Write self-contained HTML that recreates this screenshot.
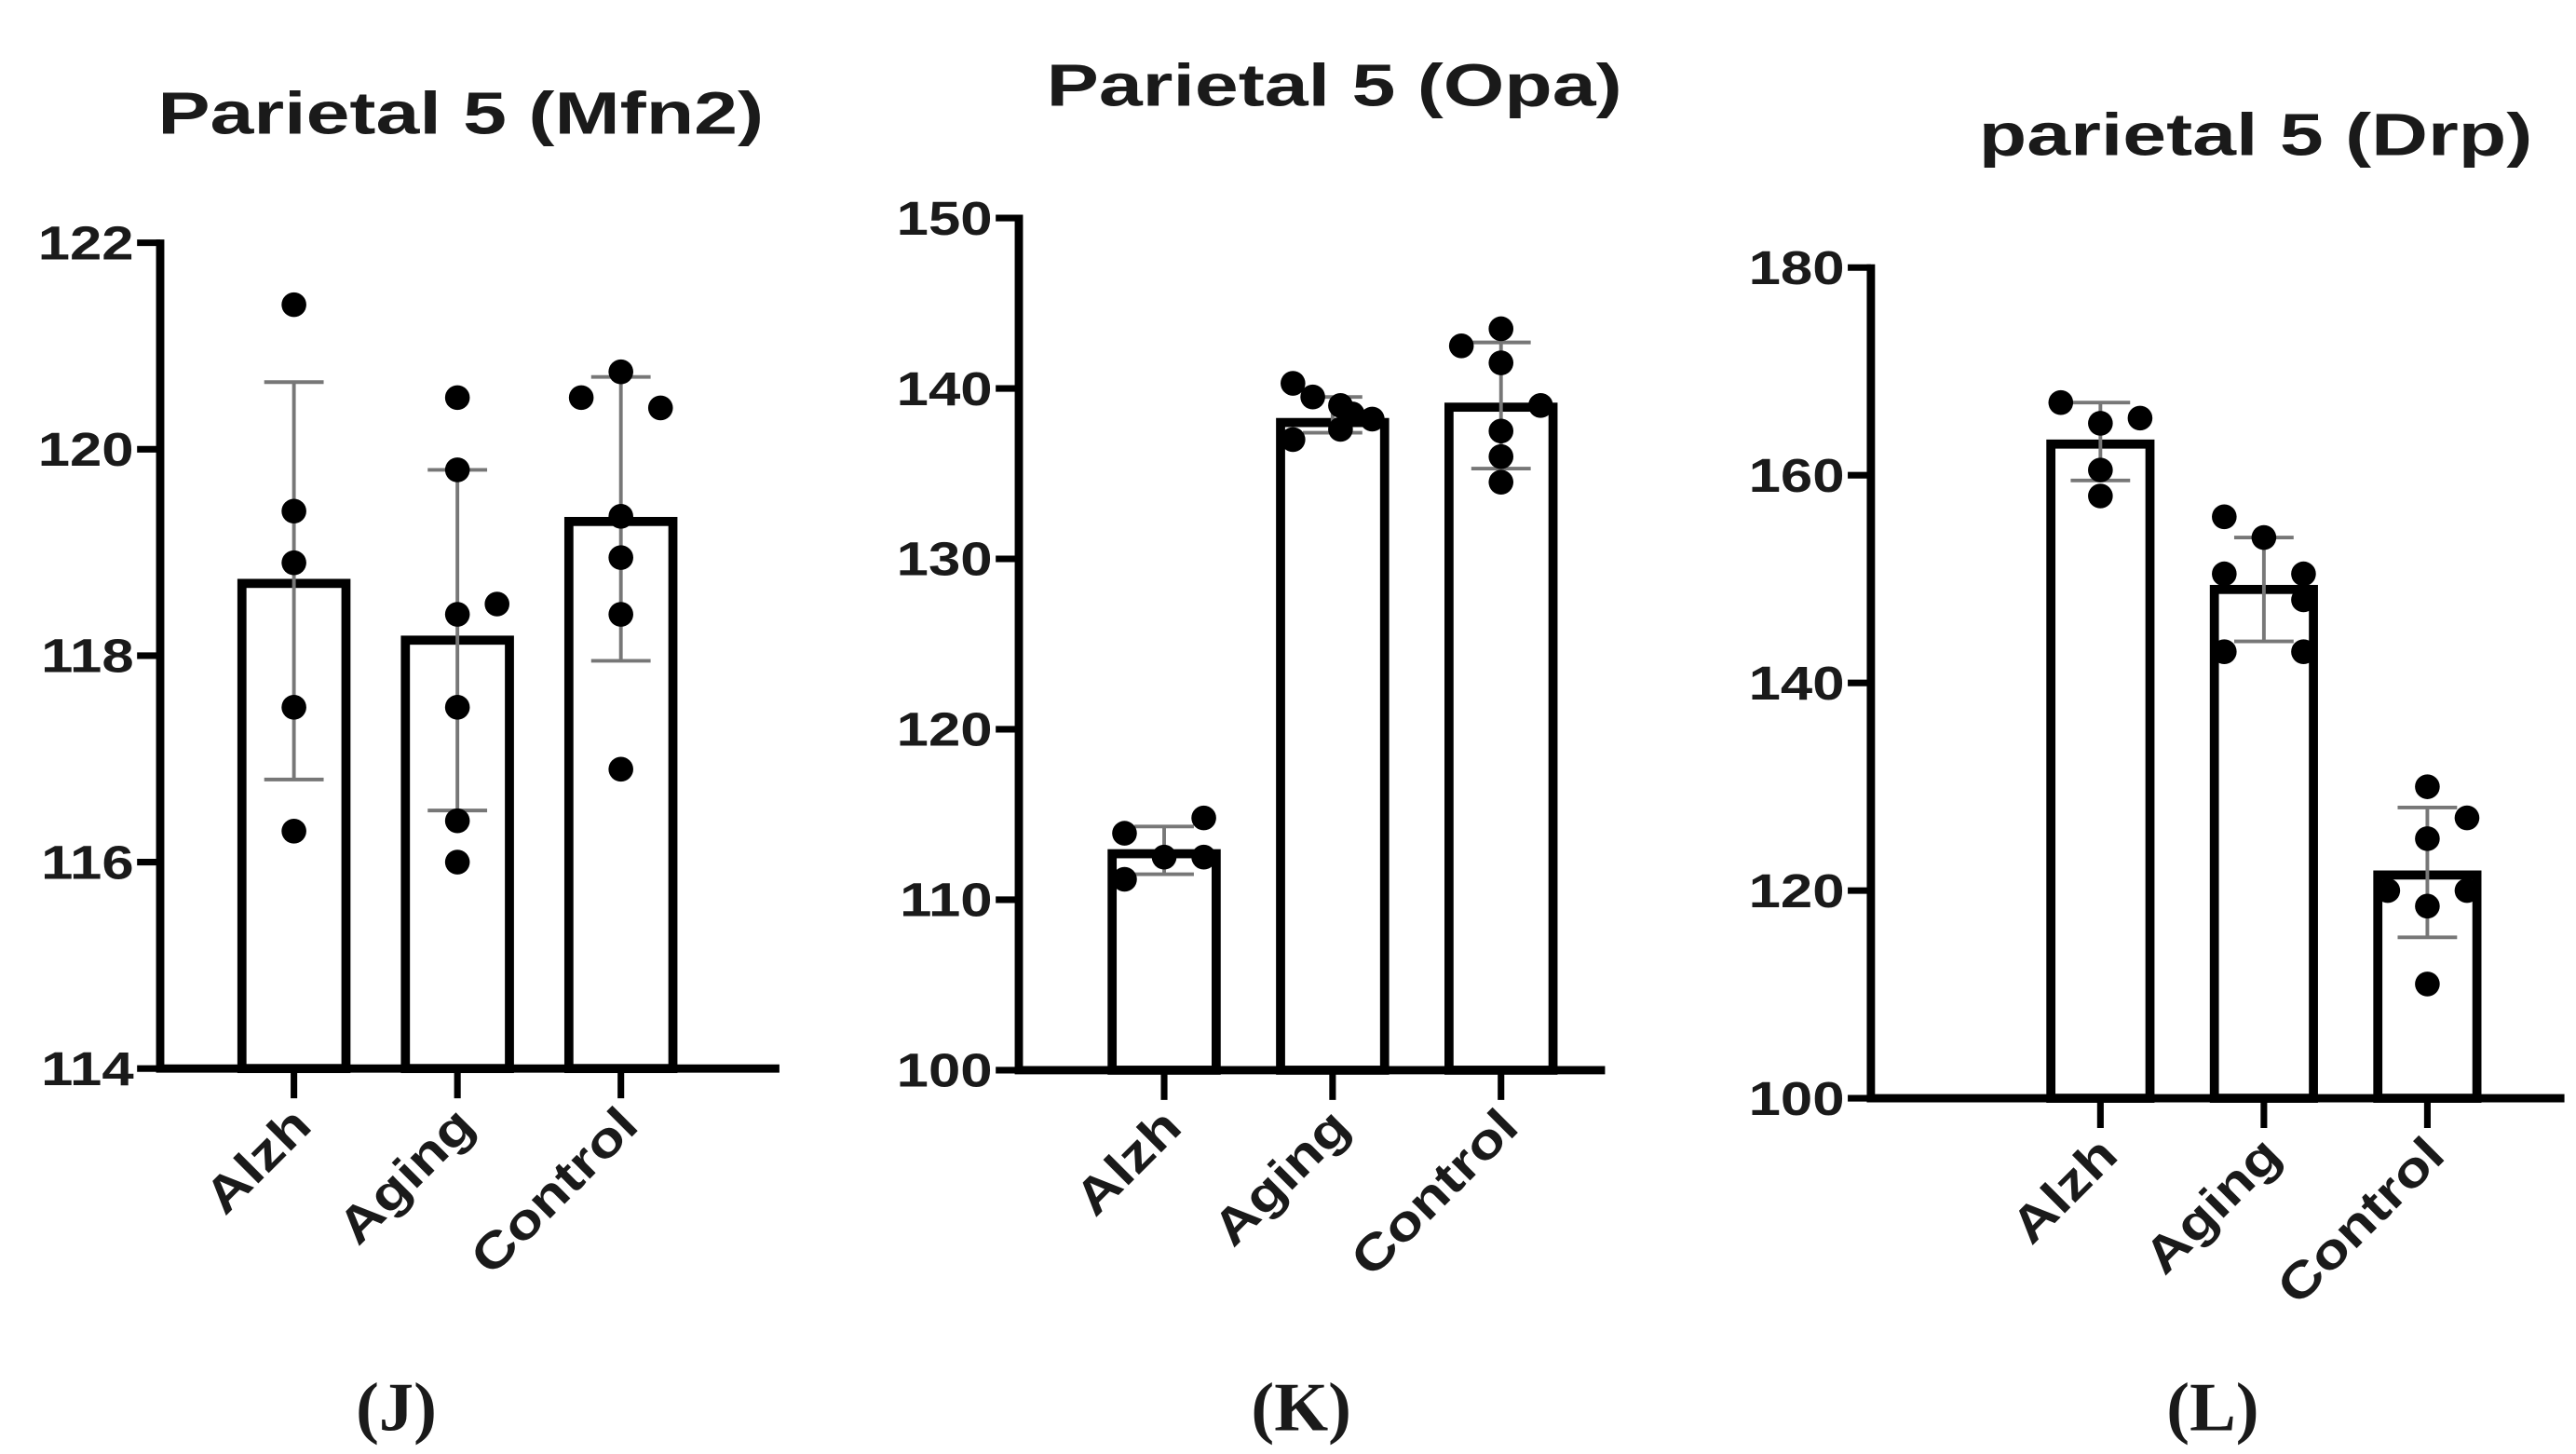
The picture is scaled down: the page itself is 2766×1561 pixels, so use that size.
<!DOCTYPE html>
<html><head><meta charset="utf-8">
<style>
html,body{margin:0;padding:0;background:#fff;}
svg{display:block;}
text{font-family:"Liberation Sans",Arial,sans-serif;font-weight:bold;fill:#1a1a1a;}
.cap{font-family:"Liberation Serif",serif;font-weight:bold;}
</style></head>
<body>
<svg id="fig" width="2766" height="1561" viewBox="0 0 1560 880.4" xmlns="http://www.w3.org/2000/svg"></svg>
<script>
const categories = ["Alzh","Aging","Control"];
// Panel J (Mfn2)
const jMeans = [118.7, 118.15, 119.3];
const jErrLow = [116.8, 116.5, 117.95];
const jErrHigh = [120.65, 119.8, 120.7];
const jPoints = [[121.4,119.4,118.9,117.5,116.3],[120.5,119.8,118.4,118.5,117.5,116.4,116.0],[120.75,120.5,120.4,119.35,118.95,118.4,116.9]];
const jJitter = [[0,0,0,0,0],[0,0,0,1,0,0,0],[0,-1,1,0,0,0,0]];
const jTicks = [114,116,118,120,122];
// Panel K (Opa)
const kMeans = [112.7, 138.0, 138.9];
const kErrLow = [111.5, 137.4, 135.3];
const kErrHigh = [114.3, 139.5, 142.7];
const kPoints = [[114.8,113.9,112.5,112.5,111.2],[140.3,139.5,139.0,138.5,138.2,137.6,137.0],[143.5,142.5,141.5,139.0,137.5,136.0,134.5]];
const kJitter = [[1,-1,0,1,-1],[-1,-0.5,0.2,0.5,1,0.2,-1],[0,-1,0,1,0,0,0]];
const kTicks = [100,110,120,130,140,150];
// Panel L (Drp)
const lMeans = [163, 149, 121.5];
const lErrLow = [159.5, 144, 115.5];
const lErrHigh = [167, 154, 128];
const lPoints = [[167,165,165.5,160.5,158],[156,154,150.5,150.5,148,143,143],[130,127,125,120,120,118.5,111]];
const lJitter = [[-1,0,1,0,0],[-1,0,-1,1,1,-1,1],[0,1,0,-1,1,0,0]];
const lTicks = [100,120,140,160,180];

const NS="http://www.w3.org/2000/svg";
const svg=document.getElementById('fig');
function mk(tag,attrs,parent){const e=document.createElementNS(NS,tag);for(const k in attrs)e.setAttribute(k,attrs[k]);(parent||svg).appendChild(e);return e;}

function panel(cfg){
  const g=mk('g',{});
  
  
  const ymin=cfg.ticks[0], ymax=cfg.ticks[cfg.ticks.length-1];
  const y=v=>cfg.y0-(v-ymin)/(ymax-ymin)*(cfg.y0-cfg.y1);
  const x=i=>cfg.cx0+i*cfg.step;
  const t=mk('text',{x:0,y:0,'text-anchor':'middle','font-size':36,transform:`translate(${cfg.titleX} ${cfg.titleY}) scale(1.32 1)`},g);
  t.textContent=cfg.title;
  
  
  cfg.means.forEach((m,i)=>{
    const r=mk('rect',{x:x(i)-cfg.bw/2,y:y(m),width:cfg.bw,height:cfg.y0-y(m),fill:'#fff',stroke:'#000','stroke-width':5.5},g);
    
    
  });
  cfg.means.forEach((m,i)=>{
    const e=mk('g',{stroke:'#777','stroke-width':2.2},g);
    
    
    mk('line',{x1:x(i),x2:x(i),y1:y(cfg.lo[i]),y2:y(cfg.hi[i])},e);
    mk('line',{x1:x(i)-18,x2:x(i)+18,y1:y(cfg.lo[i]),y2:y(cfg.lo[i])},e);
    mk('line',{x1:x(i)-18,x2:x(i)+18,y1:y(cfg.hi[i]),y2:y(cfg.hi[i])},e);
  });
  cfg.points.forEach((arr,i)=>{
    arr.forEach((v,j)=>{
      const c=mk('circle',{cx:x(i)+cfg.jitter[i][j]*24,cy:y(v),r:7.5,fill:'#000'},g);
      
      
    });
  });
  const ax=mk('path',{d:`M${cfg.ax} ${cfg.y1-2}V${cfg.y0}H${cfg.axEnd}`,fill:'none',stroke:'#000','stroke-width':5},g);
  
  
  cfg.ticks.forEach(v=>{
    mk('line',{x1:cfg.ax-14,x2:cfg.ax,y1:y(v),y2:y(v),stroke:'#000','stroke-width':4},g);
    const tl=mk('text',{x:0,y:0,'text-anchor':'end','font-size':29,transform:`translate(${cfg.ax-16} ${y(v)+10}) scale(1.2 1)`},g);
    tl.textContent=v;
    
    
  });
  categories.forEach((c,i)=>{
    mk('line',{x1:x(i),x2:x(i),y1:cfg.y0,y2:cfg.y0+18,stroke:'#000','stroke-width':4},g);
    const tx=x(i)+12, ty=cfg.y0+36;
    const tl=mk('text',{x:0,y:0,'text-anchor':'end','font-size':30,transform:`translate(${tx} ${ty}) rotate(-45) scale(1.2 1)`},g);
    tl.textContent=c;
    
    
  });
  const cp=mk('text',{x:cfg.capX,y:866,'text-anchor':'middle','font-size':42,class:'cap'},g);
  cp.textContent=cfg.cap;
  
  
}

panel({name:'panel-j-mfn2',title:'Parietal 5 (Mfn2)',titleX:279,titleY:81,ticks:jTicks,y0:647,y1:147,ax:97,axEnd:472,cx0:178,step:99,bw:63,means:jMeans,lo:jErrLow,hi:jErrHigh,points:jPoints,jitter:jJitter,cap:'(J)',capX:240});
panel({name:'panel-k-opa',title:'Parietal 5 (Opa)',titleX:808,titleY:64,ticks:kTicks,y0:648,y1:132,ax:617,axEnd:972,cx0:705,step:102,bw:63,means:kMeans,lo:kErrLow,hi:kErrHigh,points:kPoints,jitter:kJitter,cap:'(K)',capX:788});
panel({name:'panel-l-drp',title:'parietal 5 (Drp)',titleX:1366,titleY:94,ticks:lTicks,y0:665,y1:162,ax:1133,axEnd:1553,cx0:1272,step:99,bw:60,means:lMeans,lo:lErrLow,hi:lErrHigh,points:lPoints,jitter:lJitter,cap:'(L)',capX:1340});
</script>
</body></html>
